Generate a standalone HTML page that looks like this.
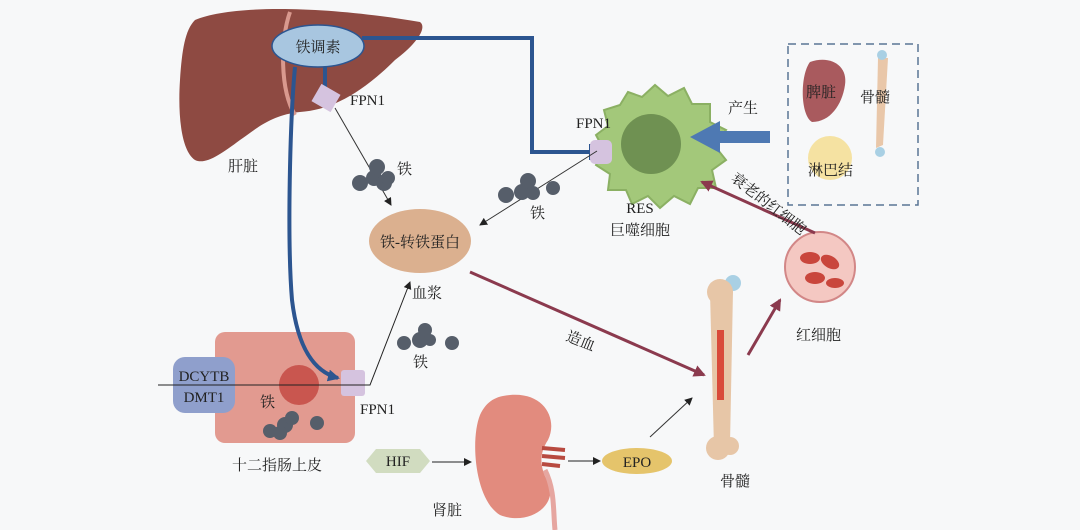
<!DOCTYPE html>
<html><head><meta charset="utf-8"><style>
body{margin:0;background:#f7f8f9}
svg{display:block}
text{font-family:"Liberation Serif","Noto Serif CJK SC",serif;fill:#222;font-size:15px}
</style></head><body>
<svg width="1080" height="530" viewBox="0 0 1080 530">
<defs>
<marker id="a" markerWidth="8" markerHeight="8" refX="7" refY="4" orient="auto" markerUnits="userSpaceOnUse"><path d="M0,0L8,4L0,8z" fill="#222"/></marker>
<marker id="r" markerWidth="12" markerHeight="12" refX="10" refY="6" orient="auto" markerUnits="userSpaceOnUse"><path d="M0,0L12,6L0,12z" fill="#8b3a4e"/></marker>
<marker id="b" markerWidth="12" markerHeight="12" refX="10" refY="6" orient="auto" markerUnits="userSpaceOnUse"><path d="M0,0L12,6L0,12z" fill="#2c5590"/></marker>
</defs>
<rect width="1080" height="530" fill="#f7f8f9"/>
<!-- liver -->
<path d="M195,20 C230,5 320,5 420,22 C428,28 415,45 395,60 C360,95 330,110 300,112 C270,115 255,130 240,140 C220,155 205,165 195,160 C180,150 178,110 180,80 C182,50 185,30 195,20Z" fill="#8e4a42"/>
<path d="M290,12 C280,40 280,90 295,115" stroke="#d9998e" stroke-width="4" fill="none"/>
<ellipse cx="318" cy="46" rx="46" ry="21" fill="#a8c6e0" stroke="#2c5590" stroke-width="1.5"/>
<text x="318" y="52" text-anchor="middle" font-size="17">铁调素</text>
<text x="228" y="171">肝脏</text>
<!-- hepcidin lines -->
<path d="M362,38 H532 V152 H590" stroke="#2c5590" stroke-width="4" fill="none"/>
<line x1="591" y1="144" x2="591" y2="160" stroke="#2c5590" stroke-width="4"/>
<path d="M325,67 V97" stroke="#2c5590" stroke-width="4" fill="none"/>
<line x1="317" y1="98" x2="333" y2="98" stroke="#2c5590" stroke-width="4"/>
<rect x="315" y="88" width="22" height="20" fill="#d5c3df" transform="rotate(30 326 98)"/>
<text x="350" y="105">FPN1</text>
<line x1="335" y1="108" x2="391" y2="205" stroke="#333" stroke-width="1" marker-end="url(#a)"/>
<g fill="#565e6a"><circle cx="360" cy="183" r="8"/><circle cx="374" cy="178" r="8"/><circle cx="384" cy="183" r="8"/><circle cx="377" cy="167" r="8"/><circle cx="388" cy="178" r="7"/></g>
<text x="397" y="174">铁</text>
<!-- transferrin -->
<ellipse cx="420" cy="241" rx="51" ry="32" fill="#dbb08f"/>
<text x="420" y="247" text-anchor="middle" font-size="17">铁-转铁蛋白</text>
<text x="412" y="298">血浆</text>
<!-- macrophage -->
<path d="M620,105 L628,92 L642,97 L655,85 L668,96 L684,88 L692,104 L710,104 L710,122 L726,130 L714,145 L726,160 L712,170 L716,188 L698,188 L690,204 L674,196 L660,208 L648,196 L632,204 L626,190 L608,190 L610,174 L596,165 L604,150 L596,135 L608,126 L604,110Z" fill="#a3c87a" stroke="#8bb063" stroke-width="2"/>
<circle cx="651" cy="144" r="30" fill="#6f9152"/>
<rect x="590" y="140" width="22" height="24" rx="5" fill="#d5c3df"/>
<text x="576" y="128">FPN1</text>
<text x="640" y="213" text-anchor="middle">RES</text>
<text x="640" y="235" text-anchor="middle">巨噬细胞</text>
<line x1="597" y1="151" x2="480" y2="225" stroke="#333" stroke-width="1" marker-end="url(#a)"/>
<g fill="#565e6a"><circle cx="506" cy="195" r="8"/><circle cx="522" cy="192" r="8"/><circle cx="528" cy="181" r="8"/><circle cx="533" cy="193" r="7"/><circle cx="553" cy="188" r="7"/></g>
<text x="530" y="218">铁</text>
<!-- big arrow -->
<path d="M770,131 H720 V121 L690,137 L720,153 V143 H770Z" fill="#4e79b3"/>
<text x="728" y="113">产生</text>
<rect x="788" y="44" width="130" height="161" fill="none" stroke="#5a7596" stroke-width="1.5" stroke-dasharray="8,5"/>
<path d="M810,62 C830,55 848,65 845,85 C842,105 830,122 812,122 C800,115 800,75 810,62Z" fill="#a95a5e"/>
<text x="806" y="97">脾脏</text>
<path d="M878,58 L888,58 L883,145 L876,148Z" fill="#e9c7a9"/>
<circle cx="882" cy="55" r="5" fill="#a9d0e4"/><circle cx="880" cy="152" r="5" fill="#a9d0e4"/>
<text x="860" y="102">骨髓</text>
<circle cx="830" cy="158" r="22" fill="#f5e2a2"/>
<text x="808" y="175">淋巴结</text>
<!-- RBC -->
<circle cx="820" cy="267" r="35" fill="#f4c8c2" stroke="#d28787" stroke-width="2"/>
<g fill="#c9463c"><ellipse cx="810" cy="258" rx="10" ry="6"/><ellipse cx="830" cy="262" rx="10" ry="6" transform="rotate(30 830 262)"/><ellipse cx="815" cy="278" rx="10" ry="6"/><ellipse cx="835" cy="283" rx="9" ry="5"/></g>
<line x1="815" y1="233" x2="702" y2="182" stroke="#8b3a4e" stroke-width="3" marker-end="url(#r)"/>
<text x="730" y="180" transform="rotate(38 730 180)">衰老的红细胞</text>
<text x="796" y="340">红细胞</text>
<!-- bone -->
<path d="M710,292 L733,290 L730,445 L714,448Z" fill="#e7c6a7"/>
<circle cx="733" cy="283" r="8" fill="#a9d0e4"/><circle cx="720" cy="292" r="13" fill="#e7c6a7"/>
<circle cx="718" cy="448" r="12" fill="#e7c6a7"/><circle cx="730" cy="446" r="9" fill="#e7c6a7"/>
<rect x="717" y="330" width="7" height="70" fill="#d94a3a"/>
<text x="720" y="486">骨髓</text>
<line x1="748" y1="355" x2="780" y2="300" stroke="#8b3a4e" stroke-width="3" marker-end="url(#r)"/>
<line x1="470" y1="272" x2="704" y2="375" stroke="#8b3a4e" stroke-width="3" marker-end="url(#r)"/>
<text x="565" y="340" transform="rotate(22 565 340)">造血</text>
<line x1="650" y1="437" x2="692" y2="398" stroke="#333" stroke-width="1" marker-end="url(#a)"/>
<!-- duodenum -->
<rect x="215" y="332" width="140" height="111" rx="10" fill="#e29a90"/>
<circle cx="299" cy="385" r="20" fill="#c9564f"/>
<rect x="173" y="357" width="62" height="56" rx="12" fill="#8f9fcc"/>
<text x="204" y="381" text-anchor="middle">DCYTB</text>
<text x="204" y="402" text-anchor="middle">DMT1</text>
<rect x="341" y="370" width="24" height="26" rx="3" fill="#d5c3df"/>
<path d="M295,67 C290,120 287,240 292,300 C298,350 315,372 338,378" stroke="#2c5590" stroke-width="4" fill="none" marker-end="url(#b)"/>
<path d="M158,385 H370 L410,282" stroke="#222" stroke-width="1" fill="none" marker-end="url(#a)"/>
<g fill="#565e6a"><circle cx="270" cy="431" r="7"/><circle cx="285" cy="425" r="8"/><circle cx="292" cy="418" r="7"/><circle cx="317" cy="423" r="7"/><circle cx="280" cy="433" r="7"/></g>
<text x="260" y="407">铁</text>
<text x="360" y="414">FPN1</text>
<text x="232" y="470" font-size="16">十二指肠上皮</text>
<g fill="#565e6a"><circle cx="404" cy="343" r="7"/><circle cx="420" cy="340" r="8"/><circle cx="425" cy="330" r="7"/><circle cx="430" cy="340" r="6"/><circle cx="452" cy="343" r="7"/></g>
<text x="413" y="367">铁</text>
<!-- HIF -->
<path d="M366,461 L376,449 H420 L430,461 L420,473 H376Z" fill="#d1dcc0"/>
<text x="398" y="466" text-anchor="middle" font-size="14">HIF</text>
<line x1="432" y1="462" x2="471" y2="462" stroke="#222" stroke-width="1" marker-end="url(#a)"/>
<!-- kidney -->
<path d="M510,395 C545,392 558,420 548,440 C538,455 540,470 550,485 C555,510 525,525 500,515 C475,500 470,440 480,415 C487,400 497,396 510,395Z" fill="#e28b7e"/>
<path d="M542,448 L565,450 M542,456 L565,458 M542,464 L560,466" stroke="#b84a40" stroke-width="4"/>
<path d="M545,470 C555,490 553,510 555,530" stroke="#e6a6a0" stroke-width="5" fill="none"/>
<text x="432" y="515">肾脏</text>
<line x1="568" y1="461" x2="600" y2="461" stroke="#222" stroke-width="1" marker-end="url(#a)"/>
<ellipse cx="637" cy="461" rx="35" ry="13" fill="#e5c46b"/>
<text x="637" y="467" text-anchor="middle" font-size="14">EPO</text>
</svg>
</body></html>
